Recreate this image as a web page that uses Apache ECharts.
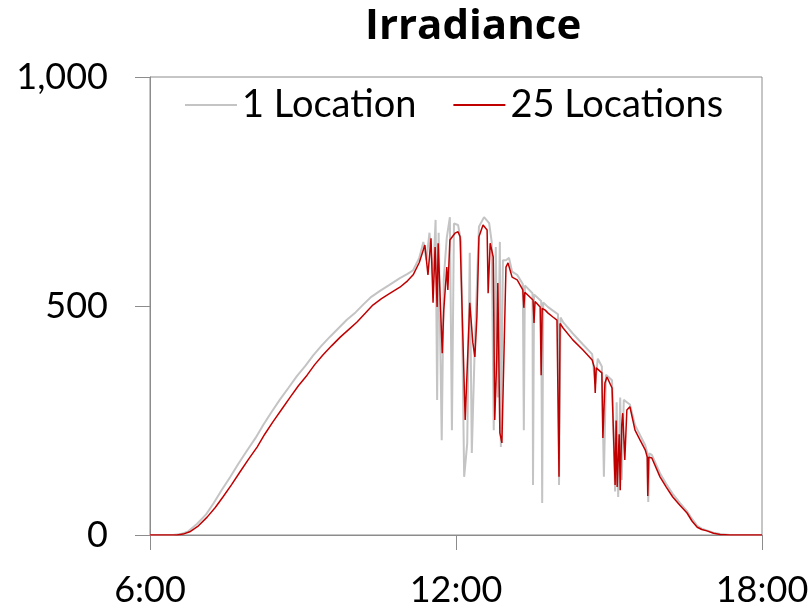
<!DOCTYPE html>
<html>
<head>
<meta charset="utf-8">
<script src="https://cdn.jsdelivr.net/npm/echarts@6/dist/echarts.min.js"></script>
<style>
  html, body { margin: 0; padding: 0; background: #fff; }
  #chart { width: 812px; height: 609px; }
</style>
</head>
<body>
<div id="chart"></div>
<script>
// time of day in hours, values in W/m2
const oneLocTime = [6.00, 6.45, 6.60, 6.75, 6.92, 7.10, 7.25, 7.40, 7.57, 7.73, 7.90, 8.07, 8.22, 8.38, 8.55, 8.72, 8.88, 9.05, 9.20, 9.36, 9.53, 9.70, 9.86, 10.03, 10.18, 10.34, 10.51, 10.68, 10.90, 11.05, 11.16, 11.28, 11.36, 11.42, 11.48, 11.55, 11.60, 11.63, 11.66, 11.72, 11.76, 11.82, 11.88, 11.92, 11.96, 12.04, 12.10, 12.16, 12.22, 12.27, 12.31, 12.37, 12.45, 12.55, 12.65, 12.70, 12.74, 12.78, 12.82, 12.86, 12.88, 12.92, 12.98, 13.04, 13.10, 13.20, 13.31, 13.33, 13.35, 13.50, 13.51, 13.53, 13.67, 13.69, 13.71, 13.80, 13.90, 14.00, 14.02, 14.05, 14.10, 14.29, 14.49, 14.67, 14.73, 14.78, 14.86, 14.90, 14.94, 15.06, 15.12, 15.15, 15.18, 15.22, 15.25, 15.29, 15.35, 15.41, 15.51, 15.61, 15.71, 15.75, 15.77, 15.79, 15.84, 16.00, 16.12, 16.25, 16.39, 16.53, 16.63, 16.73, 16.82, 16.92, 17.05, 17.18, 17.37, 18.00];
const oneLocValue = [0, 0, 2, 8, 24, 45, 70, 97, 126, 155, 184, 212, 240, 268, 296, 322, 347, 370, 392, 413, 433, 452, 470, 486, 503, 520, 533, 545, 561, 570, 578, 605, 640, 600, 660, 560, 688, 295, 660, 207, 560, 650, 694, 229, 680, 677, 640, 127, 200, 616, 179, 420, 673, 694, 681, 640, 229, 629, 300, 640, 192, 600, 600, 605, 575, 568, 548, 229, 545, 528, 109, 525, 511, 70, 508, 498, 490, 482, 109, 475, 465, 440, 416, 395, 330, 385, 368, 127, 350, 338, 95, 290, 83, 300, 120, 295, 290, 285, 240, 218, 196, 180, 72, 178, 175, 135, 112, 90, 70, 52, 35, 20, 14, 10, 5, 2, 0, 0];

const manyLocTime = [6.00, 6.53, 6.65, 6.78, 6.95, 7.12, 7.28, 7.43, 7.60, 7.76, 7.93, 8.10, 8.25, 8.41, 8.58, 8.75, 8.91, 9.08, 9.23, 9.39, 9.56, 9.73, 9.90, 10.06, 10.22, 10.37, 10.54, 10.71, 10.90, 11.05, 11.16, 11.28, 11.39, 11.45, 11.51, 11.55, 11.59, 11.63, 11.65, 11.73, 11.76, 11.82, 11.84, 11.88, 11.98, 12.04, 12.08, 12.18, 12.27, 12.33, 12.37, 12.41, 12.45, 12.53, 12.61, 12.63, 12.67, 12.73, 12.76, 12.80, 12.82, 12.86, 12.90, 12.98, 13.02, 13.10, 13.20, 13.31, 13.33, 13.35, 13.51, 13.53, 13.55, 13.65, 13.67, 13.69, 13.75, 13.80, 13.90, 13.98, 14.02, 14.04, 14.10, 14.29, 14.49, 14.67, 14.71, 14.73, 14.75, 14.86, 14.88, 14.92, 14.96, 15.06, 15.12, 15.14, 15.16, 15.20, 15.22, 15.25, 15.27, 15.31, 15.35, 15.41, 15.51, 15.61, 15.71, 15.75, 15.76, 15.78, 15.84, 16.00, 16.12, 16.25, 16.39, 16.53, 16.63, 16.73, 16.82, 16.92, 17.05, 17.18, 17.37, 18.00];
const manyLocValue = [0, 0, 2, 7, 20, 39, 60, 83, 110, 137, 165, 192, 220, 247, 274, 301, 326, 349, 372, 393, 413, 432, 449, 465, 484, 502, 516, 528, 541, 555, 568, 595, 633, 568, 648, 507, 629, 498, 637, 397, 491, 585, 535, 644, 659, 662, 651, 251, 507, 420, 389, 476, 651, 677, 666, 528, 637, 607, 251, 389, 550, 223, 201, 585, 594, 563, 557, 535, 496, 530, 513, 463, 510, 498, 349, 495, 491, 485, 476, 469, 127, 462, 452, 426, 404, 382, 367, 310, 365, 354, 212, 332, 345, 321, 109, 250, 105, 220, 98, 240, 266, 164, 273, 280, 229, 207, 186, 170, 85, 170, 168, 127, 105, 83, 65, 48, 30, 17, 12, 9, 4, 1, 0, 0];

const xTicks = [6, 12, 18];
const yTicks = [0, 500, 1000];

const pair = (ts, vs) => ts.map((t, i) => [t, vs[i]]);

const chart = echarts.init(document.getElementById('chart'));

const axisColor = '#8c8c8c';
const textFont = { fontFamily: 'Lato', fontSize: 36, color: '#000' };

chart.setOption({
  animation: false,
  title: {
    text: 'Irradiance',
    left: 360,
    top: 1,
    textStyle: { fontFamily: 'Open Sans', fontWeight: 'bold', fontSize: 42, color: '#000' },
  },
  legend: {
    left: 185,
    top: 86,
    padding: 0,
    icon: 'rect',
    itemWidth: 52,
    itemHeight: 2,
    itemGap: 37,
    textStyle: { fontFamily: 'Lato', fontSize: 38, color: '#000' },
    data: ['1 Location', '25 Locations'],
  },
  grid: {
    left: 150,
    right: 50,
    top: 77,
    bottom: 74,
    show: true,
    borderColor: axisColor,
    borderWidth: 1,
    outerBoundsMode: 'none',
  },
  xAxis: {
    type: 'value',
    min: xTicks[0],
    max: xTicks[xTicks.length - 1],
    interval: 6,
    axisLine: { lineStyle: { color: axisColor } },
    axisTick: { length: 15, lineStyle: { color: axisColor } },
    splitLine: { show: false },
    axisLabel: { ...textFont, margin: 37, formatter: (v) => v + ':00' },
  },
  yAxis: {
    type: 'value',
    min: yTicks[0],
    max: yTicks[yTicks.length - 1],
    interval: 500,
    axisLine: { show: true, lineStyle: { color: axisColor } },
    axisTick: { show: true, length: 15, lineStyle: { color: axisColor } },
    splitLine: { show: false },
    axisLabel: { ...textFont, margin: 42, formatter: (v) => v.toLocaleString('en-US') },
  },
  series: [
    {
      name: '1 Location',
      type: 'line',
      showSymbol: false,
      data: pair(oneLocTime, oneLocValue),
      itemStyle: { color: '#c4c4c4' },
      lineStyle: { color: '#c4c4c4', width: 2 },
    },
    {
      name: '25 Locations',
      type: 'line',
      showSymbol: false,
      data: pair(manyLocTime, manyLocValue),
      itemStyle: { color: '#c00000' },
      lineStyle: { color: '#c00000', width: 1.5 },
    },
  ],
});
</script>
</body>
</html>
